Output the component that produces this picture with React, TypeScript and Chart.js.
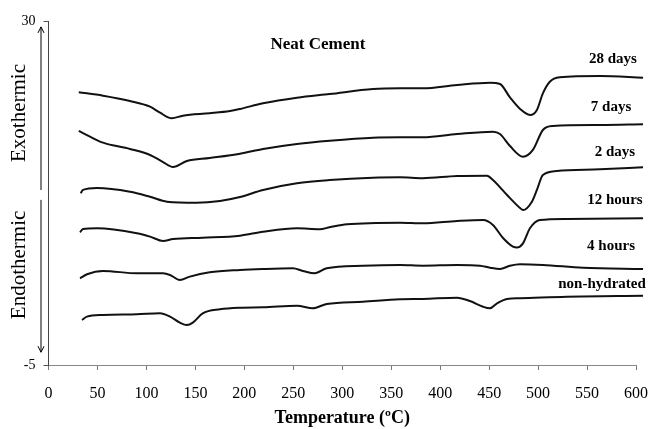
import React, { useEffect, useRef } from "react";
import { Chart, registerables } from "chart.js";

Chart.register(...registerables);

// ---- data (temperature in °C, heat-flow signal in chart units) ----
const SERIES_NAMES = ["28 days", "7 days", "2 days", "12 hours", "4 hours", "non-hydrated"];

const T_28D = [30.9, 55.7, 83.2, 103.7, 113.9, 125.8, 137.2, 164.6, 185.3, 195.6, 219.1, 253.7, 287.1, 331.4, 359.0, 382.3, 417.2, 450.9, 461.1, 471.3, 481.6, 491.7, 498.8, 504.9, 512.0, 522.1, 563.2, 607.2];
const V_28D = [22.75, 22.4, 21.86, 21.28, 20.67, 20.1, 20.37, 20.61, 20.84, 21.05, 21.63, 22.2, 22.57, 23.08, 23.15, 23.15, 23.49, 23.72, 23.59, 22.22, 21.05, 20.44, 20.95, 22.64, 23.82, 24.27, 24.4, 24.23];

const T_7D = [30.9, 42.4, 55.7, 83.2, 103.7, 117.0, 127.1, 141.3, 164.6, 195.6, 219.1, 253.7, 287.1, 331.4, 359.0, 382.3, 417.2, 453.9, 461.1, 471.3, 484.6, 494.7, 504.9, 515.0, 563.2, 607.2];
const V_7D = [18.81, 18.23, 17.62, 16.98, 16.37, 15.65, 15.15, 15.76, 16.06, 16.5, 16.98, 17.49, 17.82, 18.13, 18.17, 18.17, 18.5, 18.74, 18.5, 17.28, 16.19, 16.88, 18.91, 19.32, 19.42, 19.49];

const T_2D = [32.9, 35.2, 49.5, 83.2, 103.7, 121.0, 151.4, 175.1, 195.6, 219.1, 253.7, 287.1, 331.4, 359.0, 382.3, 417.2, 447.8, 453.9, 468.3, 481.6, 484.6, 493.7, 498.8, 504.9, 519.0, 563.2, 607.2];
const V_2D = [12.47, 12.81, 13.01, 12.63, 12.12, 11.62, 11.51, 11.69, 12.09, 12.81, 13.49, 13.82, 14.06, 14.1, 14.0, 14.23, 14.26, 13.82, 12.3, 10.97, 10.77, 11.62, 12.81, 14.33, 14.74, 14.91, 15.12];

const T_12H = [32.2, 35.2, 49.5, 90.3, 103.7, 117.0, 127.1, 157.5, 195.6, 219.1, 253.7, 277.0, 287.1, 304.8, 359.0, 382.3, 417.2, 443.8, 453.9, 464.2, 474.4, 478.4, 484.6, 491.7, 501.8, 529.2, 607.2];
const V_12H = [8.5, 8.84, 8.91, 8.4, 8.06, 7.62, 7.82, 7.95, 8.16, 8.56, 8.91, 8.81, 9.01, 9.32, 9.48, 9.42, 9.65, 9.75, 9.25, 7.92, 7.04, 6.96, 7.38, 8.91, 9.75, 9.86, 9.93];

const T_4H = [32.2, 39.3, 55.7, 90.3, 117.0, 124.1, 134.2, 144.3, 164.6, 195.6, 219.1, 249.6, 259.8, 271.9, 284.1, 321.1, 359.0, 382.3, 417.2, 440.7, 450.9, 461.1, 471.3, 481.6, 504.9, 545.9, 607.2];
const V_4H = [3.82, 4.23, 4.57, 4.33, 4.33, 4.16, 3.65, 3.99, 4.43, 4.67, 4.77, 4.84, 4.57, 4.33, 4.84, 5.1, 5.18, 5.1, 5.18, 5.1, 4.9, 4.77, 5.1, 5.25, 5.18, 4.9, 4.77];

const T_NH = [34.2, 39.3, 55.7, 90.3, 113.9, 124.1, 134.2, 141.3, 147.4, 157.5, 175.1, 195.6, 219.1, 253.7, 269.9, 284.1, 321.1, 359.0, 382.3, 417.2, 430.4, 443.8, 450.9, 458.1, 468.3, 481.6, 529.2, 607.2];
const V_NH = [-0.42, -0.08, 0.09, 0.16, 0.26, -0.08, -0.69, -0.93, -0.69, 0.26, 0.67, 0.83, 0.87, 1.03, 0.77, 1.21, 1.44, 1.69, 1.72, 1.85, 1.51, 0.93, 0.77, 1.28, 1.72, 1.79, 1.95, 2.05];

const SERIES_T = [T_28D, T_7D, T_2D, T_12H, T_4H, T_NH];
const SERIES_V = [V_28D, V_7D, V_2D, V_12H, V_4H, V_NH];

const X_MIN = 0;
const X_MAX = 600;
const X_STEP = 50;
const Y_TICKS = [-5, 30];

const TITLE = "Neat Cement";
const X_TITLE = "Temperature (ºC)";
const EXO = "Exothermic";
const ENDO = "Endothermic";

// annotation anchors (in axis units)
const LABEL_ANCHOR_T = [576.5, 574.5, 578.5, 578.5, 574.5, 565.3];
const LABEL_ANCHOR_V = [26.13, 21.25, 16.67, 11.79, 7.11, 3.24];
const TITLE_ANCHOR = [275.2, 27.56];

const SERIF = '"Liberation Serif", "Times New Roman", serif';

const annotPlugin = {
  id: "annot",
  afterDraw(chart: any) {
    const { ctx, chartArea } = chart;
    const x = chart.scales.x;
    const y = chart.scales.y;
    ctx.save();
    ctx.fillStyle = "#000";
    ctx.textAlign = "center";
    ctx.textBaseline = "middle";

    ctx.font = `bold 17px ${SERIF}`;
    ctx.fillText(TITLE, x.getPixelForValue(TITLE_ANCHOR[0]), y.getPixelForValue(TITLE_ANCHOR[1]));

    ctx.font = `bold 15px ${SERIF}`;
    SERIES_NAMES.forEach((name, i) => {
      ctx.fillText(name, x.getPixelForValue(LABEL_ANCHOR_T[i]), y.getPixelForValue(LABEL_ANCHOR_V[i]));
    });

    // arrows
    const ax = chartArea.left - 7.5;
    ctx.strokeStyle = "#000";
    ctx.lineWidth = 1;
    const t1 = y.getPixelForValue(29.4);
    const b1 = y.getPixelForValue(12.8);
    const t2 = y.getPixelForValue(11.8);
    const b2 = y.getPixelForValue(-3.7);
    ctx.beginPath();
    ctx.moveTo(ax, t1);
    ctx.lineTo(ax, b1);
    ctx.moveTo(ax - 3, t1 + 6);
    ctx.lineTo(ax, t1);
    ctx.lineTo(ax + 3, t1 + 6);
    ctx.moveTo(ax, t2);
    ctx.lineTo(ax, b2);
    ctx.moveTo(ax - 3, b2 - 6);
    ctx.lineTo(ax, b2);
    ctx.lineTo(ax + 3, b2 - 6);
    ctx.stroke();

    ctx.font = `21px ${SERIF}`;
    const drawRot = (txt: string, v: number) => {
      ctx.save();
      ctx.translate(19, y.getPixelForValue(v));
      ctx.rotate(-Math.PI / 2);
      ctx.fillText(txt, 0, 0);
      ctx.restore();
    };
    drawRot(EXO, 20.64);
    drawRot(ENDO, 5.18);
    ctx.restore();
  },
};

export default function App() {
  const ref = useRef<HTMLCanvasElement | null>(null);
  useEffect(() => {
    if (!ref.current) return;
    const datasets = SERIES_NAMES.map((name, i) => ({
      label: name,
      data: SERIES_T[i].map((t, k) => ({ x: t, y: SERIES_V[i][k] })),
      borderColor: "#111",
      borderWidth: 2,
      pointRadius: 0,
      fill: false,
      clip: false as const,
      cubicInterpolationMode: "monotone" as const,
    }));
    const chart = new Chart(ref.current, {
      type: "line",
      data: { datasets },
      plugins: [annotPlugin],
      options: {
        animation: false,
        responsive: false,
        maintainAspectRatio: false,
        layout: { padding: { left: 0, top: 21, right: 22, bottom: 0 } },
        plugins: { legend: { display: false }, tooltip: { enabled: false } },
        scales: {
          x: {
            type: "linear",
            min: X_MIN,
            max: X_MAX,
            ticks: {
              stepSize: X_STEP,
              color: "#000",
              font: { family: SERIF, size: 16 },
              padding: 14,
              maxRotation: 0,
            },
            grid: { drawOnChartArea: false, drawTicks: true, tickLength: 5, color: "#777" },
            border: { display: true, color: "#888", width: 1 },
            title: {
              display: true,
              text: X_TITLE,
              color: "#000",
              font: { family: SERIF, size: 18, weight: "bold" },
              padding: { top: 2, bottom: 0 },
            },
            afterFit: (s: any) => {
              s.height = 64;
              s.paddingLeft = 0;
              s.paddingRight = 0;
            },
          },
          y: {
            type: "linear",
            min: Y_TICKS[0],
            max: Y_TICKS[1],
            afterBuildTicks: (s: any) => {
              s.ticks = Y_TICKS.map((v) => ({ value: v }));
            },
            ticks: {
              color: "#000",
              font: { family: SERIF, size: 14 },
              padding: 8,
            },
            grid: { drawOnChartArea: false, drawTicks: true, tickLength: 5, color: "#555" },
            border: { display: true, color: "#444", width: 1 },
            afterFit: (s: any) => {
              s.width = 48.5;
              s.paddingTop = 0;
              s.paddingBottom = 0;
            },
          },
        },
      },
    });
    return () => chart.destroy();
  }, []);
  return (
    <div style={{ position: "absolute", left: 0, top: 0, width: 658, height: 429, background: "#fff" }}>
      <canvas ref={ref} width={658} height={429} style={{ display: "block", width: 658, height: 429 }} />
    </div>
  );
}
